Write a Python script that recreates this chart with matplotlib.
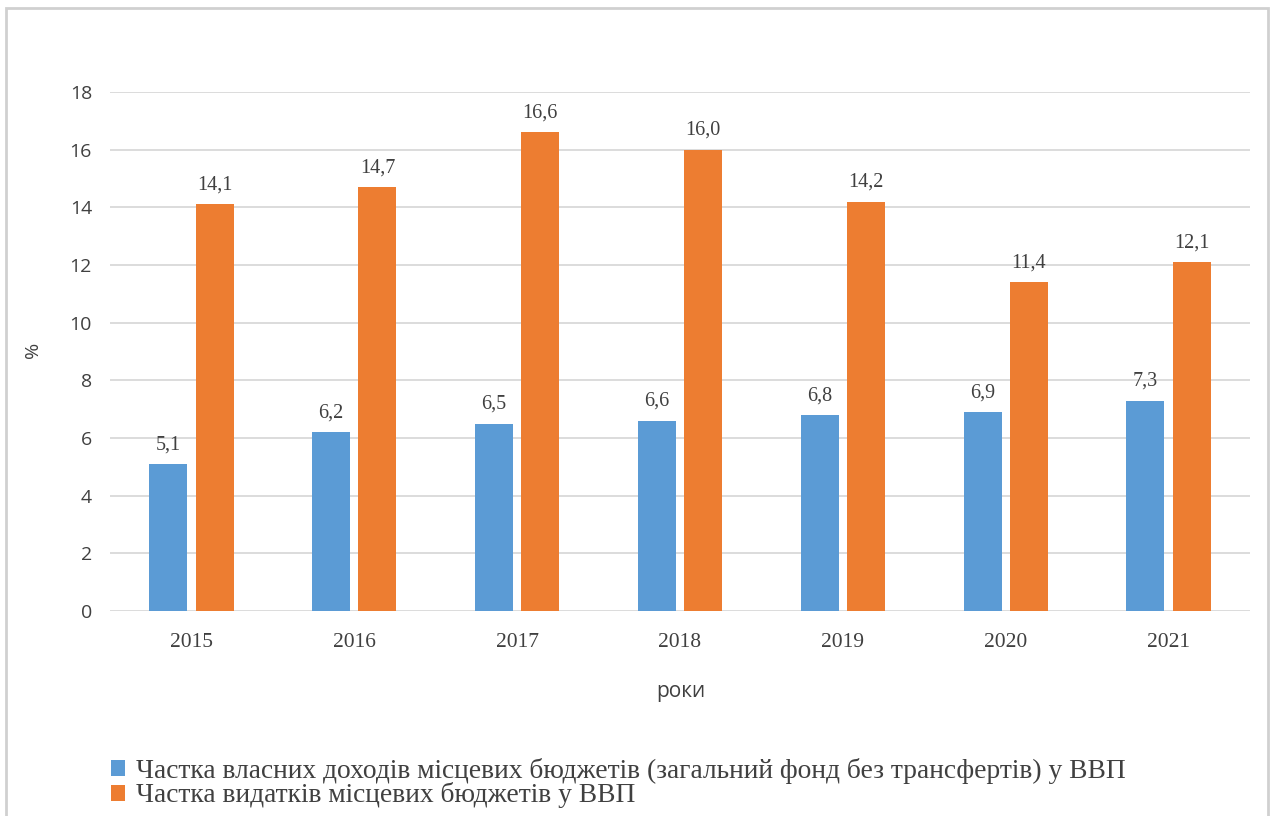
import matplotlib.pyplot as plt
import numpy as np
from matplotlib.patches import Rectangle

years = ["2015", "2016", "2017", "2018", "2019", "2020", "2021"]
own_revenue = [5.1, 6.2, 6.5, 6.6, 6.8, 6.9, 7.3]
expenditure = [14.1, 14.7, 16.6, 16.0, 14.2, 11.4, 12.1]
series_names = [
    "Частка власних доходів місцевих бюджетів (загальний фонд без трансфертів) у ВВП",
    "Частка видатків місцевих бюджетів у ВВП",
]

serif = "Liberation Serif"
sans = "Open Sans"
text_color = "#404040"


def main():
    fig = plt.figure(figsize=(12.72, 8.16), dpi=100)
    ax = fig.add_axes([0.0865, 0.2512, 0.8962, 0.6361])

    x = np.arange(len(years))
    w = 0.233
    b1 = ax.bar(x - 0.142, own_revenue, w, color="#5B9BD5", label=series_names[0], zorder=3)
    b2 = ax.bar(x + 0.142, expenditure, w, color="#ED7D31", label=series_names[1], zorder=3)

    for bars, vals in ((b1, own_revenue), (b2, expenditure)):
        for bar, v in zip(bars, vals):
            ax.annotate(f"{v:.1f}".replace(".", ","),
                        (bar.get_x() + bar.get_width() / 2, v),
                        xytext=(0, 7), textcoords="offset points",
                        ha="center", va="bottom", fontsize=14.5,
                        family=serif, color=text_color)

    ax.set_xlim(-0.5, len(years) - 0.5)
    ax.set_ylim(0, 18)
    ax.set_yticks(range(0, 19, 2))
    ax.set_xticks(x)
    ax.set_xticklabels(years, family=serif, fontsize=15.5, color=text_color)
    for lab in ax.get_yticklabels():
        lab.set_family(sans)
        lab.set_fontsize(14)
        lab.set_color(text_color)
    ax.tick_params(axis="both", length=0)
    ax.tick_params(axis="x", pad=16)
    ax.tick_params(axis="y", pad=13)
    ax.grid(axis="y", color="#D9D9D9", linewidth=1.3, zorder=0)
    for s in ax.spines.values():
        s.set_visible(False)

    fig.text(33 / 1272, 1 - 350 / 816, "%", rotation=90, ha="center", va="center",
             family=sans, fontsize=14, color=text_color)
    fig.text(681 / 1272, 1 - 692 / 816, "роки", ha="center", va="center",
             family=sans, fontsize=15, color=text_color)

    fig.legend(handles=[b1, b2], loc="upper left", bbox_to_anchor=(97 / 1272, 1 - 744 / 816),
               frameon=False, prop={"family": serif, "size": 19.8}, handlelength=0.53,
               handleheight=0.53, handletextpad=0.4, labelspacing=-0.05, borderpad=0,
               labelcolor=text_color)

    fig.patches.append(Rectangle((6 / 1272, -0.01), 1262 / 1272, 1 - 8 / 816 + 0.01,
                                 transform=fig.transFigure, fill=False,
                                 edgecolor="#D0D0D0", linewidth=2))

    fig.savefig("out.png", dpi=100)


if __name__ == "__main__":
    main()
